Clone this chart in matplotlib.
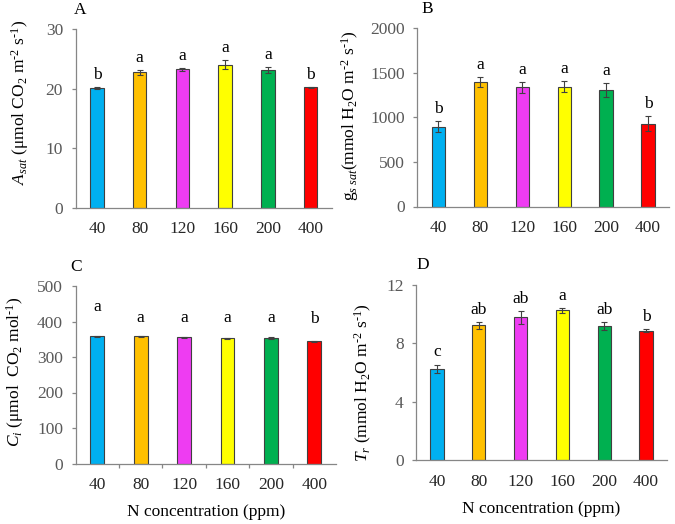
import matplotlib
matplotlib.use("Agg")
import matplotlib.pyplot as plt
import numpy as np

plt.rcParams['font.family'] = ['Liberation Serif', 'DejaVu Serif']
plt.rcParams['mathtext.fontset'] = 'custom'
plt.rcParams['mathtext.rm'] = 'Liberation Serif'
plt.rcParams['mathtext.it'] = 'Liberation Serif:italic'

categories = ['40', '80', '120', '160', '200', '400']
colors = ['#00B0F0', '#FFC000', '#EE3CF2', '#FFFF00', '#00B050', '#FF0000']

A_vals = [20.1, 22.7, 23.2, 24.0, 23.1, 20.2]
A_err = [0.2, 0.4, 0.3, 0.8, 0.5, 0.1]
A_let = ['b', 'a', 'a', 'a', 'a', 'b']

B_vals = [895, 1395, 1336, 1343, 1306, 929]
B_err = [60, 56, 60, 58, 78, 84]
B_let = ['b', 'a', 'a', 'a', 'a', 'b']

C_vals = [358, 358, 355, 353, 353, 344]
C_err = [2, 2, 2, 1.5, 2, 1.5]
C_let = ['a', 'a', 'a', 'a', 'a', 'b']
C_let_y = [418, 386, 386, 386, 386, 384]

D_vals = [6.24, 9.23, 9.78, 10.26, 9.19, 8.87]
D_err = [0.30, 0.24, 0.45, 0.18, 0.28, 0.10]
D_let = ['c', 'ab', 'ab', 'a', 'ab', 'b']

W, H = 675, 524
fig = plt.figure(figsize=(W / 100, H / 100), dpi=100)

def ax_at(l, t, r, b):
    return fig.add_axes([l / W, 1 - b / H, (r - l) / W, (b - t) / H])

gray = '#595959'
spine = '#868686'
HY = '\u2010'

def panel(ax, vals, err, letters, ymax, step, ylabel, label_xy, letter_y=None, midticks=False):
    x = np.arange(len(categories))
    ax.bar(x, vals, width=0.32, color=colors, edgecolor='#404040', linewidth=0.8, zorder=2)
    ax.errorbar(x, vals, yerr=err, fmt='none', ecolor='#404040', elinewidth=0.8,
                capsize=2.5, capthick=0.8, zorder=3)
    for i, (v, e, lt) in enumerate(zip(vals, err, letters)):
        if letter_y is not None:
            ax.text(i, letter_y[i], lt, ha='center', va='bottom', fontsize=12.5)
        else:
            ax.annotate(lt, (i, v + e), xytext=(0, 3), textcoords='offset points',
                        ha='center', va='bottom', fontsize=12.5)
    ax.set_xlim(-0.5, len(categories) - 0.5)
    ax.set_ylim(0, ymax)
    ax.set_yticks(np.arange(0, ymax + step / 2, step))
    ax.set_xticks(x)
    ax.set_xticklabels(categories)
    for s in ['top', 'right']:
        ax.spines[s].set_visible(False)
    for s in ['left', 'bottom']:
        ax.spines[s].set_color(spine)
        ax.spines[s].set_linewidth(0.9)
    ax.tick_params(axis='y', colors=spine, labelcolor=gray, labelsize=12.5, length=3,
                   width=0.9, pad=6)
    ax.tick_params(axis='x', length=0, labelsize=12.5, labelcolor='#262626', pad=10)
    if midticks:
        ax.set_xticks(np.arange(0.5, len(categories) - 0.5, 1), minor=True)
        ax.tick_params(axis='x', which='minor', length=3, width=0.9, colors=spine)
    ax.set_ylabel(ylabel, fontsize=12.5, va='center')
    ax.yaxis.set_label_coords(*label_xy)

axA = ax_at(75.5, 29, 332, 207.5)
panel(axA, A_vals, A_err, A_let, 30, 10,
      r'$\mathit{A}_{\mathit{sat}}$ (μmol CO$_2$ m$^{' + HY + r'2}$ s$^{' + HY + r'1}$)',
      (-0.216, 0.59))
axB = ax_at(417.5, 28, 669, 206.5)
panel(axB, B_vals, B_err, B_let, 2000, 500,
      r'g$_{\mathit{s\ sat}}$(mmol H$_2$O m$^{' + HY + r'2}$ s$^{' + HY + r'1}$)',
      (-0.268, 0.51))
axC = ax_at(75.5, 286, 336, 463.5)
panel(axC, C_vals, C_err, C_let, 500, 100,
      r'$\mathit{C}_{\mathit{i}}$ (μmol  CO$_2$ mol$^{' + HY + r'1}$)',
      (-0.232, 0.515), letter_y=C_let_y, midticks=True)
axD = ax_at(416, 285, 667, 460)
panel(axD, D_vals, D_err, D_let, 12, 4,
      r'$\mathit{T}_{\mathit{r}}$ (mmol H$_2$O m$^{' + HY + r'2}$ s$^{' + HY + r'1}$)',
      (-0.211, 0.44))

axC.set_xlabel('N concentration (ppm)', fontsize=12.5, labelpad=8)
axD.set_xlabel('N concentration (ppm)', fontsize=12.5, labelpad=8)

for lbl, (px, py) in zip('ABCD', [(80, 9.5), (427.5, 9), (76, 267), (423, 265)]):
    fig.text(px / W, 1 - py / H, lbl, fontsize=12.5, ha='center', va='center')

fig.savefig('out.png', dpi=100)
